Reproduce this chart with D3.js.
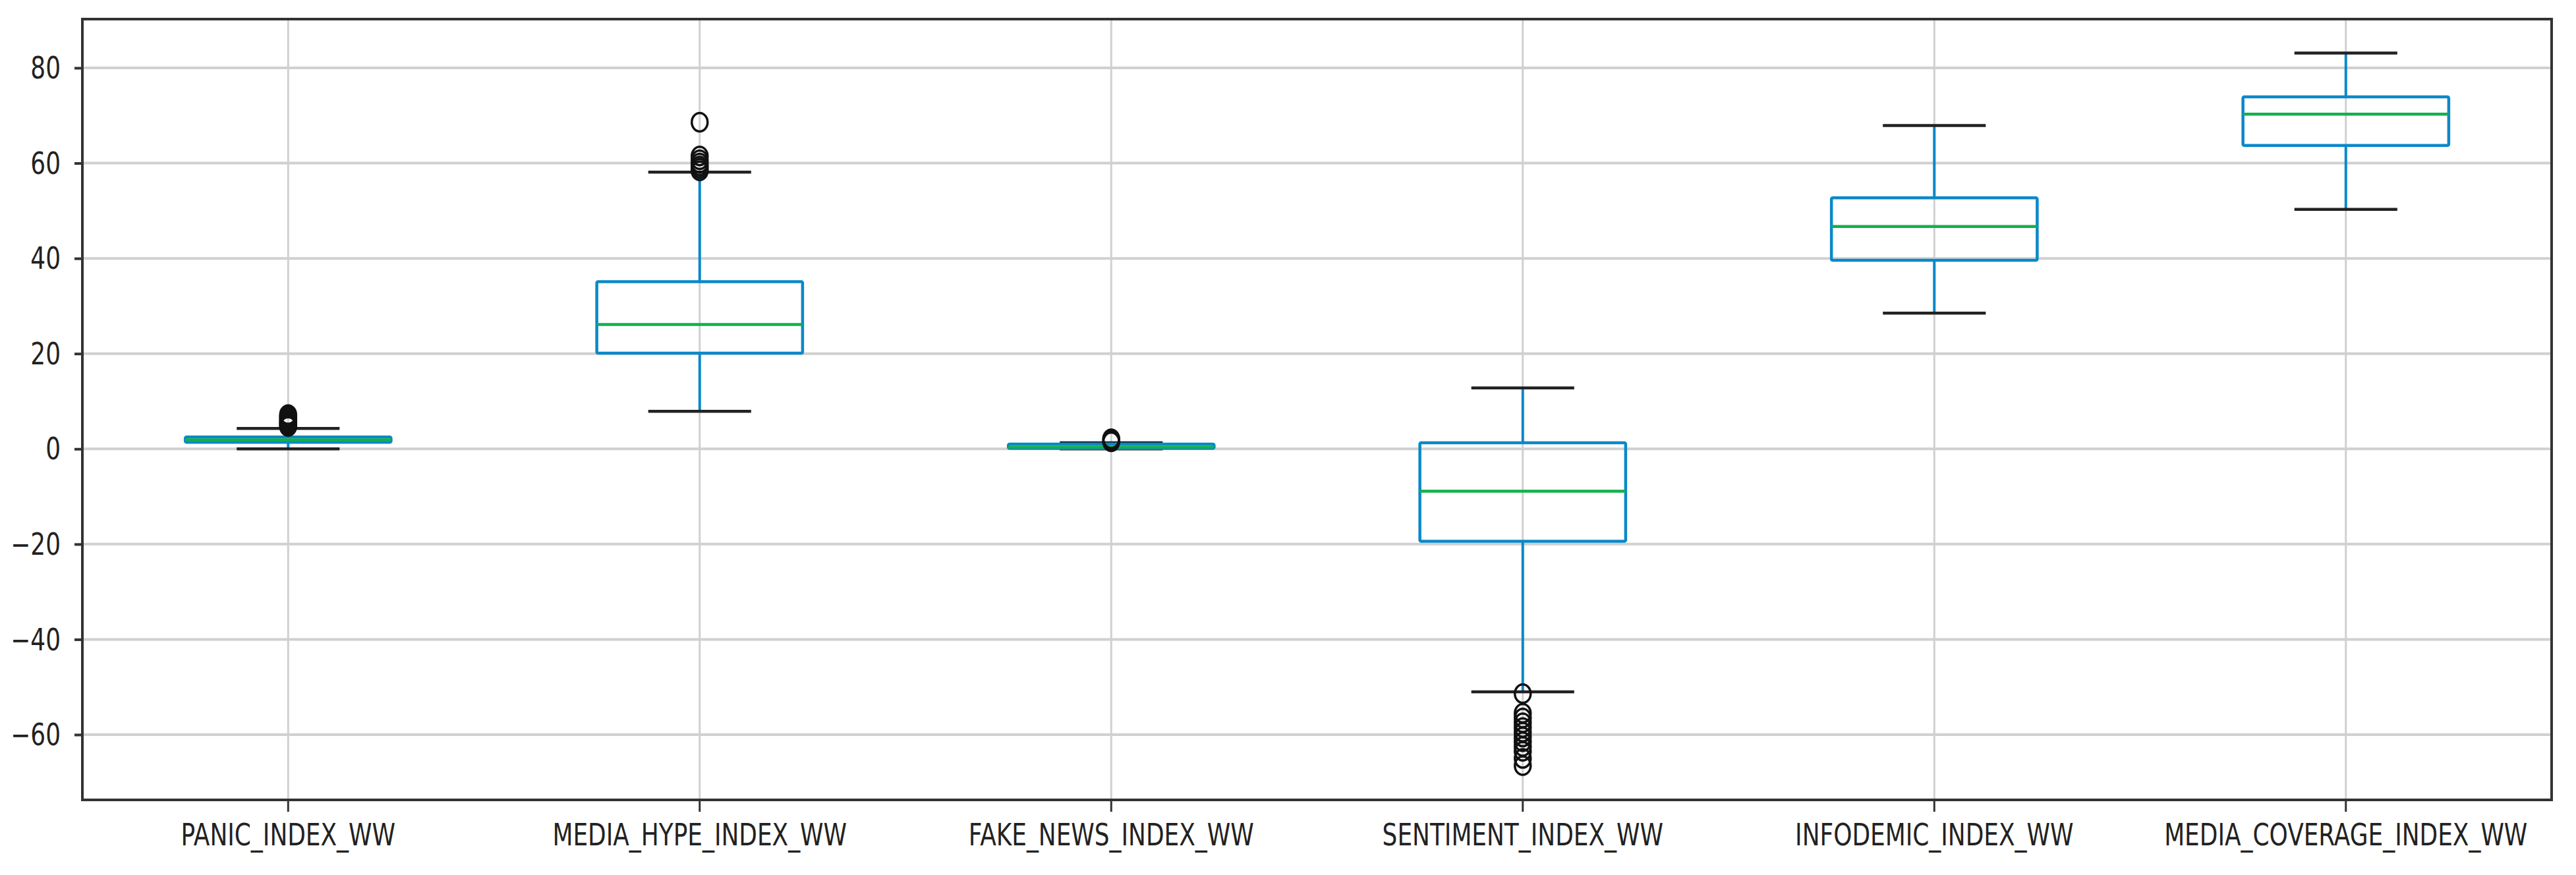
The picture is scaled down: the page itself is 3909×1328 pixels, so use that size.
<!DOCTYPE html>
<html>
<head>
<meta charset="utf-8">
<script src="https://cdn.jsdelivr.net/npm/d3@7"></script>
<style>
  html, body { margin: 0; padding: 0; background: #fff; }
  text { font-family: "DejaVu Sans", sans-serif; fill: #222; }
</style>
</head>
<body>
<div id="chart"></div>
<script>
// box plot summary
var categories = ["PANIC_INDEX_WW", "MEDIA_HYPE_INDEX_WW", "FAKE_NEWS_INDEX_WW",
                  "SENTIMENT_INDEX_WW", "INFODEMIC_INDEX_WW", "MEDIA_COVERAGE_INDEX_WW"];
var whiskerLow  = [0.0, 7.9, 0.0, -51.0, 28.5, 50.3];
var q1          = [1.4, 20.1, 0.1, -19.4, 39.6, 63.7];
var medians     = [1.9, 26.1, 0.4, -8.9, 46.7, 70.3];
var q3          = [2.5, 35.1, 1.0, 1.3, 52.7, 73.9];
var whiskerHigh = [4.3, 58.1, 1.3, 12.8, 67.9, 83.1];
var outliers = [
  [4.7, 5.0, 5.3, 5.6, 6.0, 6.4, 6.8, 7.2],
  [58.4, 58.9, 59.4, 60.0, 60.7, 61.5, 68.6],
  [1.5, 1.8, 2.1],
  [-51.4, -55.5, -56.5, -57.5, -58.5, -59.5, -60.5, -61.5, -62.5, -63.5, -65.0, -66.5],
  [],
  []
];
var yTicks = [-60, -40, -20, 0, 20, 40, 60, 80];

var margin = {top: 29, right: 37, bottom: 114, left: 125},
    width = 3909 - margin.left - margin.right,
    height = 1328 - margin.top - margin.bottom;

var squeeze = 0.78; // the picture's text is narrow

var data = categories.map(function(c, i) {
  return {name: c, lo: whiskerLow[i], q1: q1[i], med: medians[i], q3: q3[i], hi: whiskerHigh[i], out: outliers[i]};
});

var svg = d3.select("#chart")
  .append("svg")
    .attr("width", width + margin.left + margin.right)
    .attr("height", height + margin.top + margin.bottom)
  .append("g")
    .attr("transform", "translate(" + margin.left + "," + margin.top + ")");

var x = d3.scaleBand()
  .domain(categories)
  .range([0, width])
  .padding(0);
var bw = x.bandwidth();
function cx(name) { return x(name) + bw / 2; }

var y = d3.scaleLinear()
  .domain([-73.7, 90.24])
  .range([height, 0]);

// grid
svg.append("g")
  .selectAll("line.hgrid")
  .data(yTicks)
  .enter().append("line")
    .attr("x1", 0).attr("x2", width)
    .attr("y1", function(d) { return y(d); })
    .attr("y2", function(d) { return y(d); })
    .style("stroke", "#d0d0d0")
    .style("stroke-width", 4);
svg.append("g")
  .selectAll("line.vgrid")
  .data(categories)
  .enter().append("line")
    .attr("x1", function(d) { return cx(d); })
    .attr("x2", function(d) { return cx(d); })
    .attr("y1", 0).attr("y2", height)
    .style("stroke", "#d0d0d0")
    .style("stroke-width", 3);

// axes
var yAxis = svg.append("g")
  .call(d3.axisLeft(y).tickValues(yTicks).tickSize(12).tickPadding(21)
    .tickFormat(function(d) { return d < 0 ? "\u2212" + Math.abs(d) : d; }));
yAxis.select(".domain").remove();
yAxis.selectAll("line").style("stroke", "#333").style("stroke-width", 4);
yAxis.selectAll("text")
  .style("font-size", "46px")
  .attr("x", -33 / squeeze)
  .attr("dy", "0.34em")
  .attr("transform", "scale(" + squeeze + ",1)");

var xAxis = svg.append("g")
  .attr("transform", "translate(0," + height + ")")
  .call(d3.axisBottom(x).tickSize(18).tickPadding(18));
xAxis.select(".domain").remove();
xAxis.selectAll("line").style("stroke", "#333").style("stroke-width", 3);
xAxis.selectAll("text")
  .style("font-size", "46px")
  .attr("transform", "scale(" + squeeze + ",1)");

// whiskers
var blue = "#0b88c9", green = "#12b04c";
var boxes = svg.append("g").selectAll("g.box")
  .data(data)
  .enter().append("g");

boxes.append("line")
  .attr("x1", function(d) { return cx(d.name); })
  .attr("x2", function(d) { return cx(d.name); })
  .attr("y1", function(d) { return y(d.lo); })
  .attr("y2", function(d) { return y(d.q1); })
  .style("stroke", blue).style("stroke-width", 4);
boxes.append("line")
  .attr("x1", function(d) { return cx(d.name); })
  .attr("x2", function(d) { return cx(d.name); })
  .attr("y1", function(d) { return y(d.q3); })
  .attr("y2", function(d) { return y(d.hi); })
  .style("stroke", blue).style("stroke-width", 4);

// caps
boxes.selectAll("line.cap")
  .data(function(d) { return [{name: d.name, v: d.lo}, {name: d.name, v: d.hi}]; })
  .enter().append("line")
    .attr("x1", function(d) { return cx(d.name) - bw / 8; })
    .attr("x2", function(d) { return cx(d.name) + bw / 8; })
    .attr("y1", function(d) { return y(d.v); })
    .attr("y2", function(d) { return y(d.v); })
    .style("stroke", "#222").style("stroke-width", 4.5);

// box
boxes.append("rect")
  .attr("x", function(d) { return cx(d.name) - bw / 4; })
  .attr("y", function(d) { return y(d.q3); })
  .attr("width", bw / 2)
  .attr("height", function(d) { return y(d.q1) - y(d.q3); })
  .attr("rx", 2)
  .style("fill", "none")
  .style("stroke", blue)
  .style("stroke-width", 4.5);

// median
boxes.append("line")
  .attr("x1", function(d) { return cx(d.name) - bw / 4; })
  .attr("x2", function(d) { return cx(d.name) + bw / 4; })
  .attr("y1", function(d) { return y(d.med); })
  .attr("y2", function(d) { return y(d.med); })
  .style("stroke", green).style("stroke-width", 4.5);

// fliers
boxes.selectAll("ellipse")
  .data(function(d) { return d.out.map(function(v) { return {name: d.name, v: v}; }); })
  .enter().append("ellipse")
    .attr("cx", function(d) { return cx(d.name); })
    .attr("cy", function(d) { return y(d.v); })
    .attr("rx", 12)
    .attr("ry", 14)
    .style("fill", "none")
    .style("stroke", "#111")
    .style("stroke-width", 3.5);

// frame
svg.append("rect")
  .attr("x", 0).attr("y", 0)
  .attr("width", width).attr("height", height)
  .style("fill", "none")
  .style("stroke", "#333")
  .style("stroke-width", 4);
</script>
</body>
</html>
